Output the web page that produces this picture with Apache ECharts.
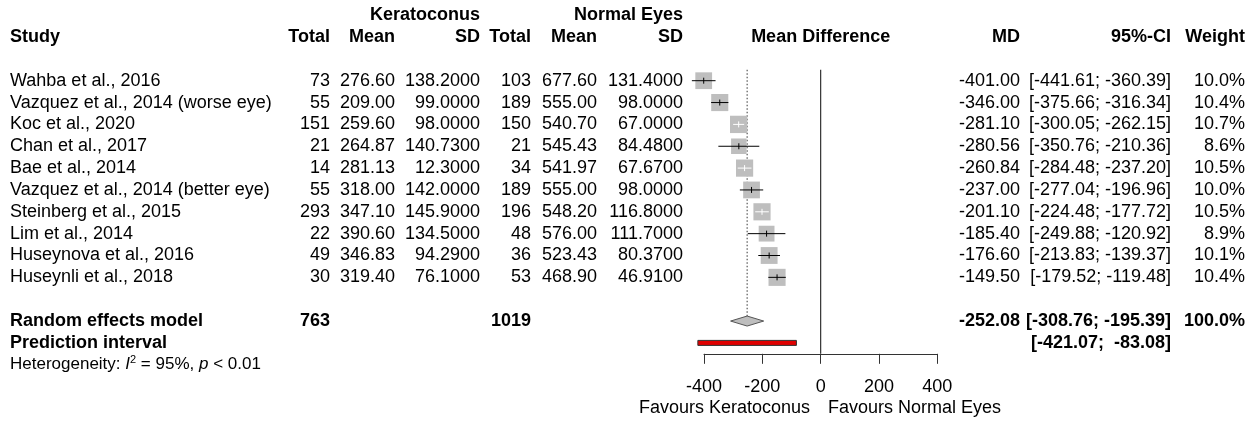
<!DOCTYPE html>
<html>
<head>
<meta charset="utf-8">
<script src="https://cdn.jsdelivr.net/npm/echarts@6/dist/echarts.min.js"></script>
<style>
  html, body { margin: 0; padding: 0; background: #fff; }
  #chart { width: 1254px; height: 421px; }
</style>
</head>
<body>
<div id="chart"></div>
<script>
// ---- study data ----
const studyLabels = [
  'Wahba et al., 2016',
  'Vazquez et al., 2014 (worse eye)',
  'Koc et al., 2020',
  'Chan et al., 2017',
  'Bae et al., 2014',
  'Vazquez et al., 2014 (better eye)',
  'Steinberg et al., 2015',
  'Lim et al., 2014',
  'Huseynova et al., 2016',
  'Huseynli et al., 2018'
];
const kcTotal = [73, 55, 151, 21, 14, 55, 293, 22, 49, 30];
const kcMean  = [276.60, 209.00, 259.60, 264.87, 281.13, 318.00, 347.10, 390.60, 346.83, 319.40];
const kcSD    = [138.20, 99.00, 98.00, 140.73, 12.30, 142.00, 145.90, 134.50, 94.29, 76.10];
const neTotal = [103, 189, 150, 21, 34, 189, 196, 48, 36, 53];
const neMean  = [677.60, 555.00, 540.70, 545.43, 541.97, 555.00, 548.20, 576.00, 523.43, 468.90];
const neSD    = [131.40, 98.00, 67.00, 84.48, 67.67, 98.00, 116.80, 111.70, 80.37, 46.91];
const meanDiff = [-401.00, -346.00, -281.10, -280.56, -260.84, -237.00, -201.10, -185.40, -176.60, -149.50];
const ciLower  = [-441.61, -375.66, -300.05, -350.76, -284.48, -277.04, -224.48, -249.88, -213.83, -179.52];
const ciUpper  = [-360.39, -316.34, -262.15, -210.36, -237.20, -196.96, -177.72, -120.92, -139.37, -119.48];
const weightPct = [10.0, 10.4, 10.7, 8.6, 10.5, 10.0, 10.5, 8.9, 10.1, 10.4];

// ---- pooled results ----
const totalKC = 763;
const totalNE = 1019;
const pooledMD = -252.08;
const pooledLower = -308.76;
const pooledUpper = -195.39;
const pooledWeight = 100.0;
const predLower = -421.07;
const predUpper = -83.08;
const hetI2 = '95%';
const hetP = '< 0.01';

// ---- axis ----
const xTicks = [-400, -200, 0, 200, 400];
const groupLabels = ['Keratoconus', 'Normal Eyes'];
const favourLabels = ['Favours Keratoconus', 'Favours Normal Eyes'];

// ---- layout (pixels / row units) ----
const FONT = '"Liberation Sans", Arial, Helvetica, sans-serif';
const FS = 18;
const ROW0 = 15.15;      // pixel centre of row 0
const ROWH = 21.85;      // row pitch
const W = 1254, H = 421;
const COL = {
  study: 10, kcTotal: 330, kcMean: 395, kcSD: 480,
  neTotal: 531, neMean: 597, neSD: 683,
  md: 1020, ci: 1171, weight: 1245, favL: 810, favR: 828
};
const FOREST_LEFT = 704, FOREST_RIGHT = 937.3;
const FOREST_MID = (FOREST_LEFT + FOREST_RIGHT) / 2;
const AXIS_ROW = 15.5;
const yMin = -ROW0 / ROWH;
const yMax = (H - ROW0) / ROWH;
const axisPix = ROW0 + AXIS_ROW * ROWH;
const BOX_K = 5.3;        // square side = BOX_K * sqrt(weight)

// ---- helpers ----
const f2 = v => v.toFixed(2);
const f4 = v => v.toFixed(4);
const ciText = (lo, hi) => '[' + f2(lo).padStart(7) + '; ' + f2(hi).padStart(7) + ']';
const pct = v => v.toFixed(1) + '%';

// text cells: x (px), row, text, align, bold
const cells = [];
function cell(x, row, text, align, bold, extra) {
  cells.push(Object.assign({ x, row, text: String(text), align, bold: !!bold, size: FS }, extra || {}));
}

// header
cell(COL.kcSD, 0, groupLabels[0], 'right', true);
cell(COL.neSD, 0, groupLabels[1], 'right', true);
cell(COL.study, 1, 'Study', 'left', true);
cell(COL.kcTotal, 1, 'Total', 'right', true);
cell(COL.kcMean, 1, 'Mean', 'right', true);
cell(COL.kcSD, 1, 'SD', 'right', true);
cell(COL.neTotal, 1, 'Total', 'right', true);
cell(COL.neMean, 1, 'Mean', 'right', true);
cell(COL.neSD, 1, 'SD', 'right', true);
cell(FOREST_MID, 1, 'Mean Difference', 'center', true);
cell(COL.md, 1, 'MD', 'right', true);
cell(COL.ci, 1, '95%-CI', 'right', true);
cell(COL.weight, 1, 'Weight', 'right', true);

// study rows
studyLabels.forEach((name, i) => {
  const r = 3 + i;
  cell(COL.study, r, name, 'left');
  cell(COL.kcTotal, r, kcTotal[i], 'right');
  cell(COL.kcMean, r, f2(kcMean[i]), 'right');
  cell(COL.kcSD, r, f4(kcSD[i]), 'right');
  cell(COL.neTotal, r, neTotal[i], 'right');
  cell(COL.neMean, r, f2(neMean[i]), 'right');
  cell(COL.neSD, r, f4(neSD[i]), 'right');
  cell(COL.md, r, f2(meanDiff[i]), 'right');
  cell(COL.ci, r, ciText(ciLower[i], ciUpper[i]), 'right');
  cell(COL.weight, r, pct(weightPct[i]), 'right');
});

// pooled rows
const ROW_RE = 14, ROW_PI = 15, ROW_HET = 16, ROW_FAV = 18;
cell(COL.study, ROW_RE, 'Random effects model', 'left', true);
cell(COL.kcTotal, ROW_RE, totalKC, 'right', true);
cell(COL.neTotal, ROW_RE, totalNE, 'right', true);
cell(COL.md, ROW_RE, f2(pooledMD), 'right', true);
cell(COL.ci, ROW_RE, ciText(pooledLower, pooledUpper), 'right', true);
cell(COL.weight, ROW_RE, pct(pooledWeight), 'right', true);
cell(COL.study, ROW_PI, 'Prediction interval', 'left', true);
cell(COL.ci, ROW_PI, ciText(predLower, predUpper), 'right', true);
cell(COL.study, ROW_HET, 'Heterogeneity: {i|I}{sup|2} = ' + hetI2 + ', {i|p} ' + hetP, 'left', false, {
  size: 17,
  lineHeight: 21,
  rich: {
    i: { fontStyle: 'italic', fontSize: 17, fontFamily: FONT, fill: '#000', lineHeight: 21 },
    sup: { fontSize: 11, fontFamily: FONT, fill: '#000', verticalAlign: 'top', lineHeight: 11 }
  }
});
cell(COL.favL, ROW_FAV, favourLabels[0], 'right');
cell(COL.favR, ROW_FAV, favourLabels[1], 'left');

// forest marks
const studyMarks = meanDiff.map((md, i) => [md, 3 + i, ciLower[i], ciUpper[i], weightPct[i]]);

const chart = echarts.init(document.getElementById('chart'), null, { renderer: 'canvas' });

chart.setOption({
  animation: false,
  backgroundColor: '#fff',
  grid: [
    { left: 0, right: 0, top: 0, bottom: 0 },
    { left: FOREST_LEFT, right: W - FOREST_RIGHT, top: 0, height: axisPix }
  ],
  xAxis: [
    { gridIndex: 0, type: 'value', min: 0, max: W, show: false },
    {
      gridIndex: 1, type: 'value',
      min: xTicks[0], max: xTicks[xTicks.length - 1], interval: xTicks[1] - xTicks[0],
      splitLine: { show: false },
      axisLine: { show: true, onZero: false, lineStyle: { color: '#333', width: 1 } },
      axisTick: { show: true, length: 10, lineStyle: { color: '#333', width: 1 } },
      axisLabel: { margin: 24, color: '#000', fontSize: FS, fontFamily: FONT }
    }
  ],
  yAxis: [
    { gridIndex: 0, type: 'value', inverse: true, min: yMin, max: yMax, show: false },
    { gridIndex: 1, type: 'value', inverse: true, min: yMin, max: AXIS_ROW, show: false }
  ],
  series: [
    // reference lines: null effect and pooled estimate
    {
      type: 'custom', xAxisIndex: 1, yAxisIndex: 1, clip: false, silent: true,
      data: [[0, 2.5, AXIS_ROW], [pooledMD, 2.5, ROW_RE]],
      renderItem(params, api) {
        const x = api.value(0);
        const top = api.coord([x, api.value(1)]);
        const bot = api.coord([x, api.value(2)]);
        if (params.dataIndex === 0) {
          return { type: 'line', shape: { x1: top[0], y1: top[1], x2: bot[0], y2: bot[1] },
                   style: { stroke: '#333', lineWidth: 1.2 } };
        }
        return { type: 'line', shape: { x1: top[0], y1: top[1], x2: bot[0], y2: bot[1] - 5 },
                 style: { stroke: '#333', lineWidth: 1, lineDash: [1.5, 2] } };
      }
    },
    // study squares with confidence intervals
    {
      type: 'custom', xAxisIndex: 1, yAxisIndex: 1, clip: false, silent: true,
      data: studyMarks,
      renderItem(params, api) {
        const c = api.coord([api.value(0), api.value(1)]);
        const lo = api.coord([api.value(2), api.value(1)]);
        const hi = api.coord([api.value(3), api.value(1)]);
        const side = BOX_K * Math.sqrt(api.value(4));
        const inside = (hi[0] - lo[0]) <= side;
        const lc = inside ? '#fff' : '#000';
        return {
          type: 'group',
          children: [
            { type: 'rect', shape: { x: c[0] - side / 2, y: c[1] - side / 2, width: side, height: side },
              style: { fill: '#bebebe' } },
            { type: 'line', shape: { x1: lo[0], y1: c[1], x2: hi[0], y2: c[1] },
              style: { stroke: lc, lineWidth: 1 } },
            { type: 'line', shape: { x1: c[0], y1: c[1] - 3, x2: c[0], y2: c[1] + 3 },
              style: { stroke: lc, lineWidth: 1 } }
          ]
        };
      }
    },
    // pooled diamond and prediction interval
    {
      type: 'custom', xAxisIndex: 1, yAxisIndex: 1, clip: false, silent: true,
      data: [[pooledMD, ROW_RE, pooledLower, pooledUpper], [(predLower + predUpper) / 2, ROW_PI, predLower, predUpper]],
      renderItem(params, api) {
        const c = api.coord([api.value(0), api.value(1)]);
        const lo = api.coord([api.value(2), api.value(1)]);
        const hi = api.coord([api.value(3), api.value(1)]);
        if (params.dataIndex === 0) {
          return { type: 'polygon',
                   shape: { points: [[lo[0], c[1]], [c[0], c[1] - 5], [hi[0], c[1]], [c[0], c[1] + 5]] },
                   style: { fill: '#bebebe', stroke: '#555', lineWidth: 1 } };
        }
        return { type: 'rect', shape: { x: lo[0], y: c[1] - 2.5, width: hi[0] - lo[0], height: 5 },
                 style: { fill: '#e00000', stroke: '#333', lineWidth: 1 } };
      }
    },
    // table text
    {
      type: 'custom', xAxisIndex: 0, yAxisIndex: 0, clip: false, silent: true,
      data: cells.map(c => [c.x, c.row]),
      renderItem(params, api) {
        const c = cells[params.dataIndex];
        const p = api.coord([api.value(0), api.value(1)]);
        const style = {
          text: c.text,
          fill: '#000',
          fontSize: c.size,
          fontFamily: FONT,
          fontWeight: c.bold ? 'bold' : 'normal',
          align: c.align, verticalAlign: 'middle',
          textAlign: c.align, textVerticalAlign: 'middle'
        };
        if (c.lineHeight) style.lineHeight = c.lineHeight;
        if (c.rich) style.rich = c.rich;
        return { type: 'text', x: p[0], y: p[1], style };
      }
    }
  ]
});
</script>
</body>
</html>
